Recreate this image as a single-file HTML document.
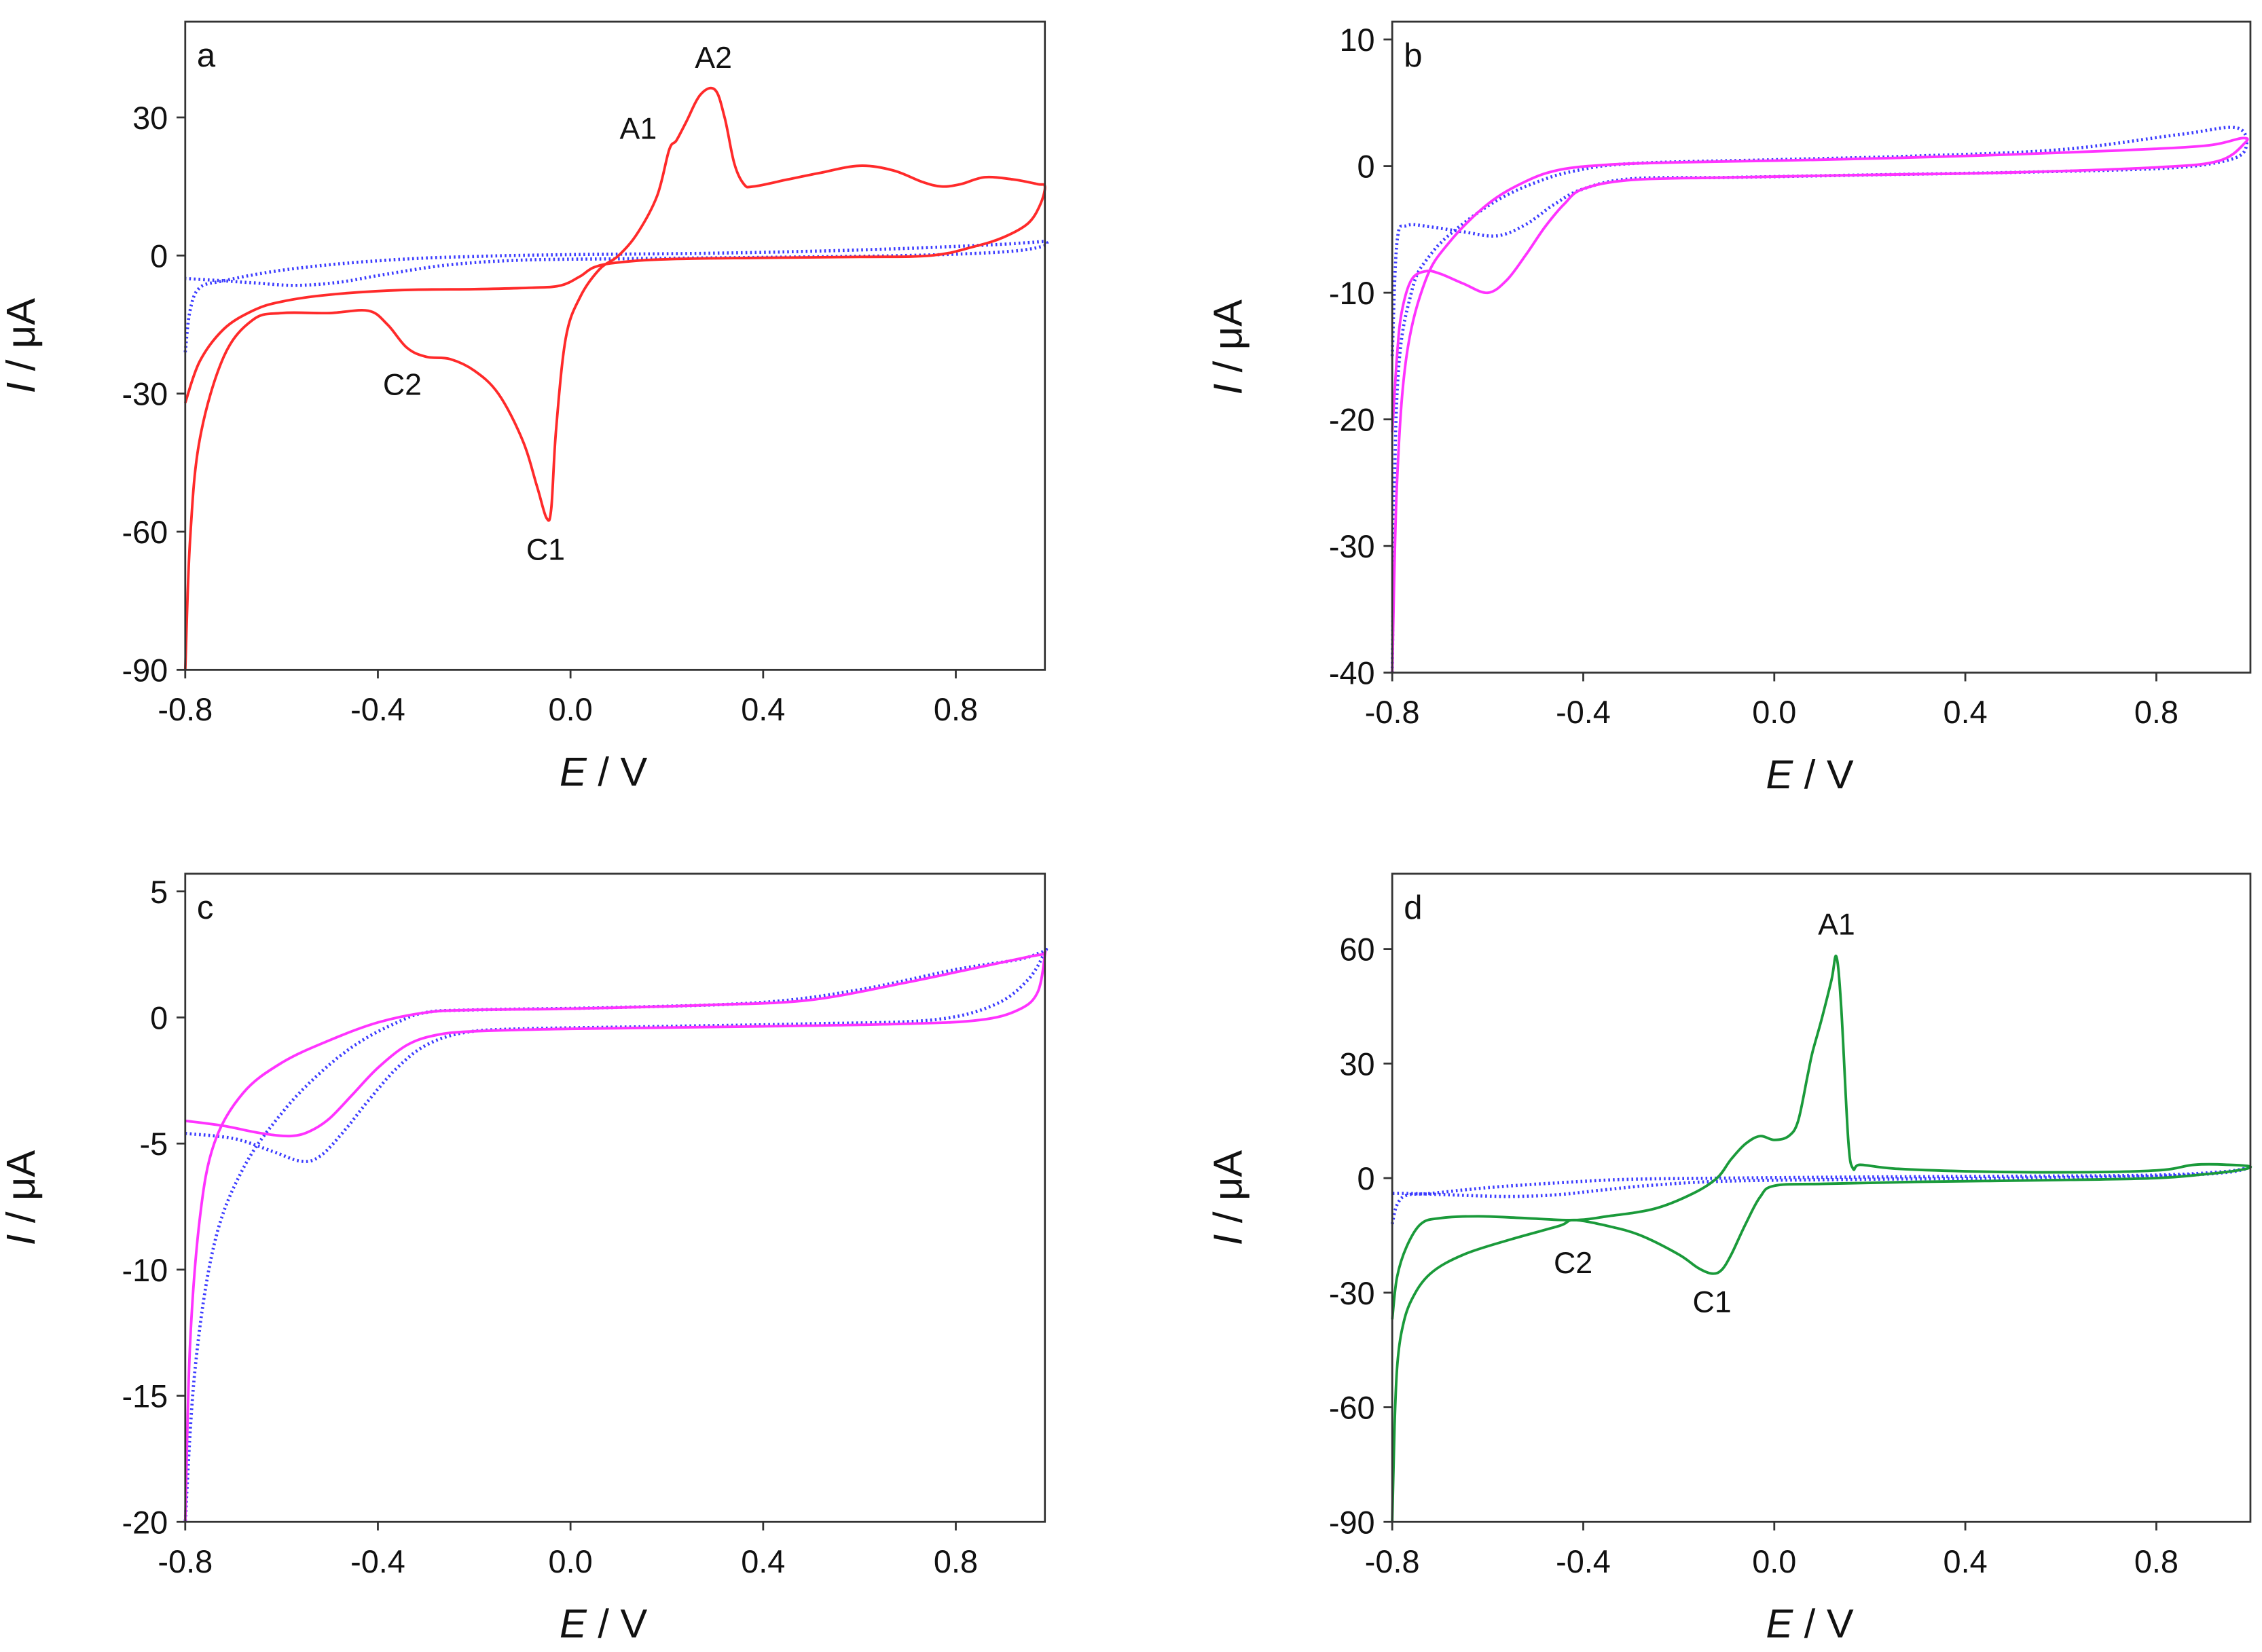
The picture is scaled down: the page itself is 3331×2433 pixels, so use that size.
<!DOCTYPE html>
<html><head><meta charset="utf-8"><style>
html,body{margin:0;padding:0;background:#fff;}
svg{display:block;}
text{font-family:"Liberation Sans",Arial,sans-serif;fill:#111;}
</style></head><body>
<svg id="fig" width="3331" height="2433" viewBox="0 0 1563 1142" preserveAspectRatio="none" xmlns="http://www.w3.org/2000/svg"></svg>
<script>
// ---------- data ----------
const xTicks = [-0.8, -0.4, 0.0, 0.4, 0.8];
const xTickLabels = ["-0.8", "-0.4", "0.0", "0.4", "0.8"];
const yTicksA = [30, 0, -30, -60, -90];
const yTicksB = [10, 0, -10, -20, -30, -40];
const yTicksC = [5, 0, -5, -10, -15, -20];
const yTicksD = [60, 30, 0, -30, -60, -90];

const redE = [-0.8,-0.79,-0.77,-0.72,-0.66,-0.6,-0.5,-0.42,-0.38,-0.34,-0.3,-0.25,-0.2,-0.15,-0.1,-0.07,-0.05,-0.04,-0.03,-0.01,0.02,0.06,0.1,0.14,0.18,0.205,0.22,0.24,0.27,0.3,0.32,0.34,0.36,0.38,0.45,0.52,0.6,0.67,0.73,0.77,0.81,0.86,0.92,0.97,0.985,0.975,0.95,0.9,0.84,0.75,0.6,0.4,0.2,0.1,0.05,0.02,-0.02,-0.08,-0.2,-0.35,-0.5,-0.6,-0.66,-0.72,-0.77,-0.8];
const redI = [-90,-62,-40,-22,-14,-12.5,-12.5,-12,-15,-20,-22,-22.5,-25,-30,-40,-50,-57,-55,-38,-18,-9,-3,0,5,13,23,25,29,35,36,30,20,15.5,15,16.5,18,19.5,18.5,16,15,15.5,17,16.5,15.5,15,11,7,4,2,0,-0.3,-0.5,-0.8,-1.5,-2.5,-4.5,-6.5,-7,-7.3,-7.5,-8.5,-10,-12,-16,-23,-32];
const blueAE = [-0.8,-0.79,-0.77,-0.72,-0.62,-0.5,-0.35,-0.2,0.0,0.3,0.6,0.85,0.95,0.985,0.98,0.9,0.7,0.4,0.1,-0.1,-0.25,-0.38,-0.48,-0.57,-0.65,-0.72,-0.8];
const blueAI = [-21,-12,-7,-5.5,-3.5,-2,-0.8,-0.2,0.2,0.5,1.2,2.2,2.8,3,2,0.8,0,-0.4,-0.7,-1,-2,-4,-5.8,-6.5,-6,-5.5,-5];

const magBE = [-0.8,-0.79,-0.78,-0.76,-0.73,-0.7,-0.65,-0.6,-0.56,-0.52,-0.48,-0.44,-0.4,-0.3,-0.1,0.2,0.5,0.8,0.93,0.985,0.98,0.9,0.7,0.4,0.1,-0.2,-0.35,-0.45,-0.52,-0.6,-0.68,-0.73,-0.77,-0.79,-0.8];
const magBI = [-21,-15,-11.5,-9,-8.3,-8.5,-9.3,-10,-9,-7,-4.8,-3,-1.8,-1.1,-0.9,-0.7,-0.5,-0.1,0.4,1.8,2.2,1.6,1.2,0.8,0.5,0.3,0.1,-0.3,-1.2,-3,-6,-9,-15,-25,-40];
const blueBE = [-0.8,-0.79,-0.77,-0.72,-0.65,-0.58,-0.52,-0.46,-0.4,-0.3,-0.1,0.2,0.5,0.8,0.93,0.985,0.97,0.85,0.6,0.3,0.0,-0.3,-0.42,-0.5,-0.58,-0.66,-0.72,-0.76,-0.79,-0.8];
const blueBI = [-15,-6,-4.7,-4.8,-5.2,-5.5,-4.6,-3,-1.8,-1,-0.9,-0.7,-0.5,-0.2,0.3,1.2,3,2.5,1.3,0.8,0.5,0.2,-0.4,-1.3,-2.7,-4.8,-7,-10,-18,-40];

const magCE = [-0.8,-0.72,-0.64,-0.58,-0.54,-0.5,-0.45,-0.4,-0.34,-0.28,-0.2,0.0,0.4,0.7,0.85,0.93,0.97,0.99,0.98,0.95,0.85,0.7,0.5,0.3,0.0,-0.2,-0.3,-0.4,-0.5,-0.6,-0.68,-0.74,-0.77,-0.79,-0.8];
const magCI = [-4.1,-4.3,-4.6,-4.7,-4.5,-4,-3,-2,-1.1,-0.7,-0.55,-0.45,-0.35,-0.25,-0.1,0.3,1,2.5,2.5,2.4,2.0,1.4,0.7,0.5,0.35,0.3,0.2,-0.2,-0.9,-1.8,-3,-5,-8,-13,-20];
const blueCE = [-0.8,-0.7,-0.62,-0.56,-0.52,-0.47,-0.42,-0.36,-0.3,-0.22,-0.1,0.2,0.5,0.75,0.88,0.95,0.99,0.98,0.93,0.8,0.6,0.4,0.1,-0.2,-0.3,-0.36,-0.44,-0.52,-0.6,-0.68,-0.74,-0.78,-0.8];
const blueCI = [-4.6,-4.8,-5.3,-5.7,-5.5,-4.5,-3.3,-2,-1.1,-0.6,-0.45,-0.35,-0.25,-0.1,0.5,1.5,2.6,2.6,2.3,1.9,1.1,0.6,0.4,0.3,0.2,-0.2,-1,-2.2,-3.8,-6,-9,-14,-20];

const greenE = [-0.8,-0.795,-0.79,-0.78,-0.76,-0.72,-0.65,-0.55,-0.45,-0.42,-0.35,-0.28,-0.2,-0.16,-0.13,-0.11,-0.09,-0.06,-0.03,0.0,0.1,0.3,0.6,0.8,0.9,0.97,1.0,0.95,0.88,0.8,0.6,0.4,0.25,0.18,0.165,0.155,0.14,0.13,0.12,0.1,0.08,0.07,0.05,0.03,0.0,-0.03,-0.06,-0.09,-0.12,-0.17,-0.25,-0.35,-0.42,-0.52,-0.62,-0.7,-0.74,-0.77,-0.79,-0.8];
const greenI = [-90,-65,-50,-40,-32,-25,-20,-16,-12.5,-11,-12.5,-15,-20,-23.5,-25,-24,-20,-12,-5,-2,-1.5,-1,-0.5,0,1,2,3,3.5,3.5,2,1.5,1.8,2.5,3.5,2.5,10,45,58,52,42,33,27,15,11,10,11,9,5,0,-4,-8,-10,-11,-10.5,-10,-10.5,-12,-18,-26,-37];
const blueDE = [-0.8,-0.79,-0.77,-0.72,-0.6,-0.45,-0.3,-0.1,0.2,0.5,0.8,0.95,1.0,0.95,0.8,0.5,0.2,-0.1,-0.25,-0.35,-0.45,-0.55,-0.65,-0.72,-0.77,-0.8];
const blueDI = [-12,-7,-4.5,-4,-2.5,-1.2,-0.3,0,0.3,0.5,0.8,1.8,3,1.5,0.5,0,-0.3,-0.8,-1.8,-3,-4.3,-4.8,-4.5,-4.2,-4,-4];

// ---------- layout ----------
const panels = [
 {id:'a', x0:128, x1:722, span:1.785, y0:15, y1:463, yMin:-90, yMax:50.8, ticks:yTicksA, lbl:'a',
  series:[{e:blueAE,i:blueAI,c:'#3b3bff',dot:true,n:'blank-cv'},{e:redE,i:redI,c:'#ff2a2a',n:'red-cv'}],
  notes:[['A1',441,96],['A2',493,47],['C2',278,273],['C1',377,387]]},
 {id:'b', x0:962, x1:1555, span:1.797, y0:15, y1:465, yMin:-40, yMax:11.4, ticks:yTicksB, lbl:'b',
  series:[{e:blueBE,i:blueBI,c:'#3b3bff',dot:true,n:'blank-cv'},{e:magBE,i:magBI,c:'#ff33ff',n:'magenta-cv'}],notes:[]},
 {id:'c', x0:128, x1:722, span:1.785, y0:604, y1:1052, yMin:-20, yMax:5.7, ticks:yTicksC, lbl:'c',
  series:[{e:blueCE,i:blueCI,c:'#3b3bff',dot:true,n:'blank-cv'},{e:magCE,i:magCI,c:'#ff33ff',n:'magenta-cv'}],notes:[]},
 {id:'d', x0:962, x1:1555, span:1.797, y0:604, y1:1052, yMin:-90, yMax:79.7, ticks:yTicksD, lbl:'d',
  series:[{e:blueDE,i:blueDI,c:'#3b3bff',dot:true,n:'blank-cv'},{e:greenE,i:greenI,c:'#1a9a3a',n:'green-cv'}],
  notes:[['A1',1269,646],['C2',1087,880],['C1',1183,907]]}
];
const NS='http://www.w3.org/2000/svg';
const svg=document.getElementById('fig');
function mk(tag,attrs,parent){const el=document.createElementNS(NS,tag);for(const k in attrs)el.setAttribute(k,attrs[k]);(parent||svg).appendChild(el);return el;}
function smooth(pts){let d='M'+pts[0][0].toFixed(1)+','+pts[0][1].toFixed(1);
 for(let k=0;k<pts.length-1;k++){const p0=pts[k-1]||pts[k],p1=pts[k],p2=pts[k+1],p3=pts[k+2]||p2;
  const t=0.17;const c1=[p1[0]+(p2[0]-p0[0])*t,p1[1]+(p2[1]-p0[1])*t],c2=[p2[0]-(p3[0]-p1[0])*t,p2[1]-(p3[1]-p1[1])*t];
  d+=' C'+c1[0].toFixed(1)+','+c1[1].toFixed(1)+' '+c2[0].toFixed(1)+','+c2[1].toFixed(1)+' '+p2[0].toFixed(1)+','+p2[1].toFixed(1);}
 return d;}
panels.forEach(p=>{
 const g=mk('g',{});
 
 
 const xs=v=>p.x0+(v+0.8)*(p.x1-p.x0)/p.span;
 const ys=v=>p.y1-(v-p.yMin)*(p.y1-p.y0)/(p.yMax-p.yMin);
 p.series.forEach(s=>{
  const pts=s.e.map((e,k)=>[Math.min(xs(e),p.x1),ys(s.i[k])]);
  const path=mk('path',{d:smooth(pts),fill:'none',stroke:s.c,'stroke-width':s.dot?2.2:1.8,'stroke-dasharray':s.dot?'1.2 2':'none','stroke-linejoin':'round'},g);
  
  
 });
 const fr=mk('rect',{x:p.x0,y:p.y0,width:p.x1-p.x0,height:p.y1-p.y0,fill:'none',stroke:'#333','stroke-width':1.3},g);
 
 
 xTicks.forEach((v,k)=>{const x=xs(v);
  mk('line',{x1:x,x2:x,y1:p.y1,y2:p.y1+6,stroke:'#333','stroke-width':1.3},g);
  const t=mk('text',{x:x,y:p.y1+35,'text-anchor':'middle','font-size':22},g);t.textContent=xTickLabels[k];
  
  
 });
 p.ticks.forEach(v=>{const y=ys(v);
  mk('line',{x1:p.x0-6,x2:p.x0,y1:y,y2:y,stroke:'#333','stroke-width':1.3},g);
  const t=mk('text',{x:p.x0-12,y:y+8,'text-anchor':'end','font-size':22},g);t.textContent=String(v);
  
  
 });
 const pl=mk('text',{x:p.x0+8,y:p.y0+31,'font-size':23},g);pl.textContent=p.lbl;
 
 
 const xt=mk('text',{x:(p.x0+p.x1)/2-8,y:p.y1+80,'text-anchor':'middle','font-size':28},g);
 xt.innerHTML='<tspan font-style="italic">E</tspan> / V';
 
 
 const yc=(p.y0+p.y1)/2;const yx=p.x0-104;
 const yt=mk('text',{x:yx,y:yc,'text-anchor':'middle','font-size':28,transform:'rotate(-90 '+yx+' '+yc+')'},g);
 yt.innerHTML='<tspan font-style="italic">I</tspan> / μA';
 
 
 p.notes.forEach(nn=>{const t=mk('text',{x:nn[1],y:nn[2],'text-anchor':'middle','font-size':21},g);t.textContent=nn[0];
  
  });
});
</script>
</body></html>
